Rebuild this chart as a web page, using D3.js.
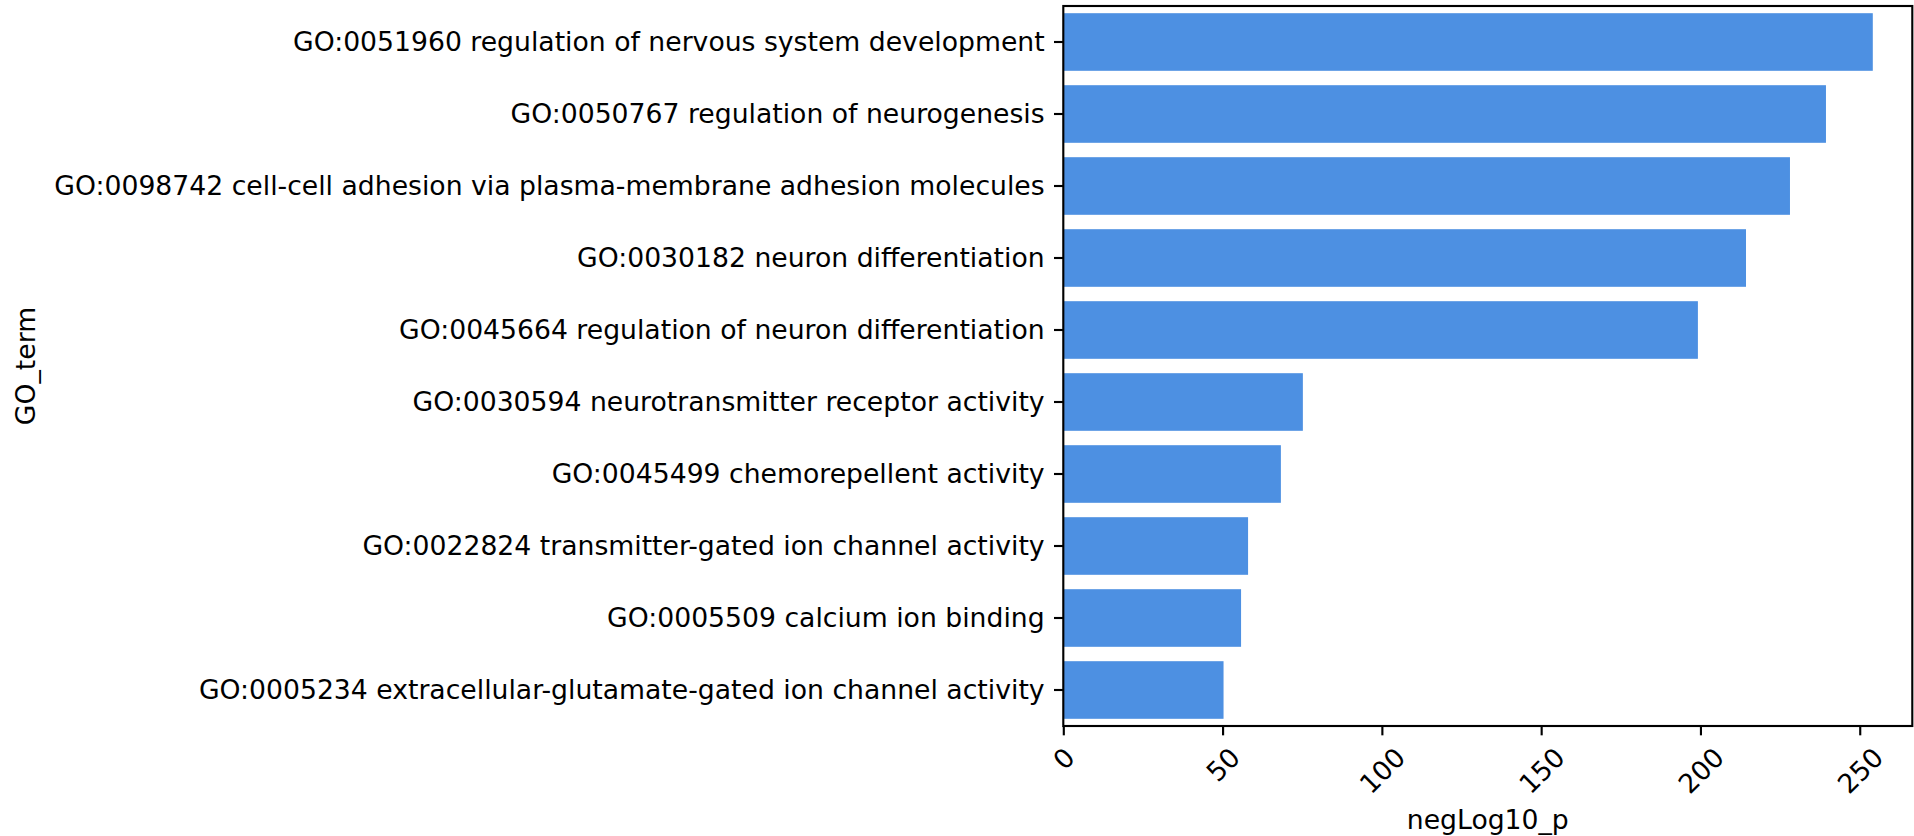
<!DOCTYPE html>
<html>
<head>
<meta charset="utf-8">
<script src="https://cdn.jsdelivr.net/npm/d3@7"></script>
<style>
  html, body { margin: 0; padding: 0; background: #fff; }
  svg { display: block; }
  text { font-family: "DejaVu Sans", sans-serif; fill: #000; }
</style>
</head>
<body>
<svg id="chart" width="1914" height="836"></svg>
<script>
const categories = [
  "GO:0051960 regulation of nervous system development",
  "GO:0050767 regulation of neurogenesis",
  "GO:0098742 cell-cell adhesion via plasma-membrane adhesion molecules",
  "GO:0030182 neuron differentiation",
  "GO:0045664 regulation of neuron differentiation",
  "GO:0030594 neurotransmitter receptor activity",
  "GO:0045499 chemorepellent activity",
  "GO:0022824 transmitter-gated ion channel activity",
  "GO:0005509 calcium ion binding",
  "GO:0005234 extracellular-glutamate-gated ion channel activity"
];
const negLog10P = [254.1, 239.4, 228.1, 214.3, 199.2, 75.2, 68.3, 58.0, 55.8, 50.3];
const xTicks = [0, 50, 100, 150, 200, 250];
const xLabel = "negLog10_p";
const yLabel = "GO_term";

const svg = d3.select("#chart");
const margin = { left: 1063.3, right: 1914 - 1912.3, top: 6, bottom: 836 - 726 };
const W = 1914, H = 836;
const fontSize = 26.67;
const tickLen = 9.33, tickPad = 9.33, lw = 2.13;

const x = d3.scaleLinear().domain([0, 266.5]).range([margin.left, W - margin.right]);
const y = d3.scaleBand().domain(categories).range([margin.top, H - margin.bottom]).paddingInner(0.2).paddingOuter(0.1);

// bars
svg.append("g").selectAll("rect")
  .data(categories.map((c, i) => ({ c, v: negLog10P[i] })))
  .join("rect")
  .attr("x", x(0))
  .attr("y", d => y(d.c))
  .attr("width", d => x(d.v) - x(0))
  .attr("height", y.bandwidth())
  .attr("fill", "#4d90e2");

// y axis
const yAxis = d3.axisLeft(y).tickSize(tickLen).tickPadding(tickPad);
const gy = svg.append("g").attr("transform", `translate(${x(0)},0)`).call(yAxis);
gy.select(".domain").remove();
gy.selectAll(".tick line").attr("stroke", "#000").attr("stroke-width", lw);
gy.selectAll(".tick text").attr("font-size", fontSize).attr("font-family", "DejaVu Sans").attr("fill", "#000");

// x axis
const xAxis = d3.axisBottom(x).tickValues(xTicks).tickFormat(d3.format("d")).tickSize(tickLen).tickPadding(tickPad);
const gx = svg.append("g").attr("transform", `translate(0,${H - margin.bottom})`).call(xAxis);
gx.select(".domain").remove();
gx.selectAll(".tick line").attr("stroke", "#000").attr("stroke-width", lw);
gx.selectAll(".tick text")
  .attr("font-size", fontSize)
  .attr("font-family", "DejaVu Sans")
  .attr("fill", "#000")
  .attr("text-anchor", "middle")
  .attr("dy", null)
  .attr("dominant-baseline", "central")
  .each(function () {
    const w = this.getComputedTextLength();
    const h = 22;
    const off = tickLen + tickPad + (w + h) / (2 * Math.SQRT2);
    d3.select(this).attr("y", 0).attr("transform", `translate(0,${off}) rotate(-45)`);
  });

// frame
svg.append("rect")
  .attr("x", x.range()[0])
  .attr("y", y.range()[0])
  .attr("width", x.range()[1] - x.range()[0])
  .attr("height", y.range()[1] - y.range()[0])
  .attr("fill", "none")
  .attr("stroke", "#000")
  .attr("stroke-width", lw);

// axis labels
svg.append("text")
  .attr("x", (x.range()[0] + x.range()[1]) / 2)
  .attr("y", 829)
  .attr("text-anchor", "middle")
  .attr("font-size", fontSize)
  .text(xLabel);

svg.append("text")
  .attr("transform", `translate(35,${(y.range()[0] + y.range()[1]) / 2}) rotate(-90)`)
  .attr("text-anchor", "middle")
  .attr("font-size", fontSize)
  .text(yLabel);
</script>
</body>
</html>
